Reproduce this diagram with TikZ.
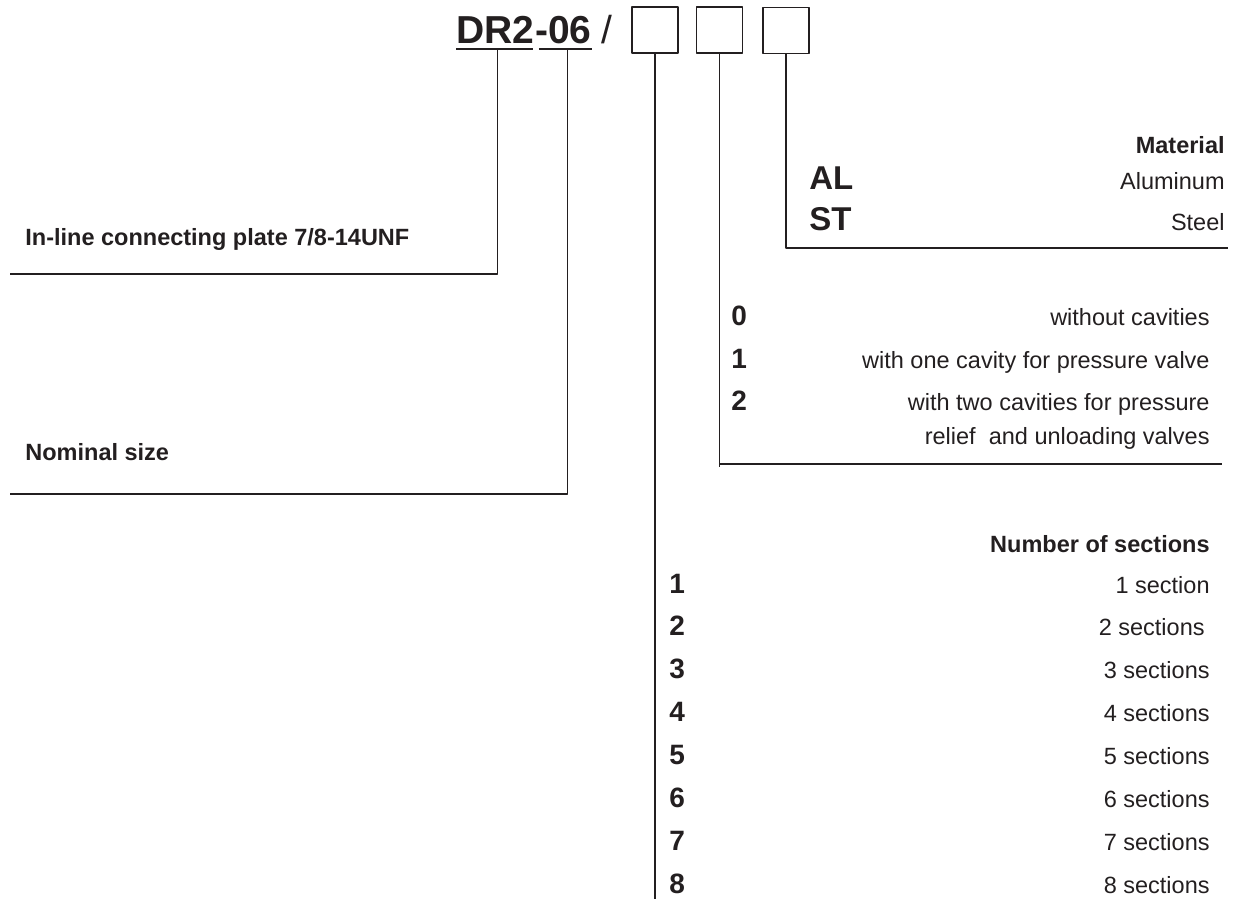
\documentclass[tikz,border=0pt]{standalone}
\usepackage{fontspec}
\setmainfont{Liberation Sans}
\usepackage{xcolor}
\usetikzlibrary{positioning}

\definecolor{ink}{HTML}{231F20}

\begin{document}
\begin{tikzpicture}[x=0.5pt, y=-0.5pt, line join=round, text=ink,
    lead/.style={draw=ink, line width=0.65pt},
    uline/.style={draw=ink, line width=0.9pt},
    codebox/.style={draw=ink, line width=0.8pt, minimum size=23pt, inner sep=0pt},
    lbl/.style={inner sep=0pt, font=\fontsize{11.75}{14}\selectfont\bfseries},
    txt/.style={inner sep=0pt, font=\fontsize{11.75}{14}\selectfont},
    key/.style={inner sep=0pt, font=\fontsize{14}{17}\selectfont\bfseries},
    bigkey/.style={inner sep=0pt, font=\fontsize{16.5}{20}\selectfont\bfseries},
    head/.style={inner sep=0pt, font=\fontsize{19.5}{23}\selectfont\bfseries}]

    % Fix the page to the size of the reference
    \useasboundingbox (0,0) rectangle (1239,901);

    % ==========================================
    % TYPE CODE AND BOXES
    % ==========================================

    \node[head, anchor=base west] (dr) at (456,43) {DR2};
    \node[head, anchor=base west] (nom) at (dr.base east) {-06};
    \node[inner sep=0pt, font=\fontsize{19.5}{23}\selectfont, anchor=base west] (slash) at (601,43) {/};

    % underlines below the fixed parts of the code
    \draw[uline] ([yshift=-3pt]dr.base west) -- ([xshift=-1pt,yshift=-3pt]dr.base east);
    \draw[uline] ([xshift=2pt,yshift=-3pt]nom.base west) -- ([yshift=-3pt]nom.base east);

    \node[codebox] (sec) at (655,30) {};
    \node[codebox] (cav) at (719.5,30) {};
    \node[codebox] (mat) at (786,30.5) {};

    % ==========================================
    % LEADER LINES
    % ==========================================

    \coordinate (dr-end) at (10,274);
    \coordinate (nom-end) at (10,494);
    \coordinate (sec-end) at (655,899);
    \coordinate (cav-end) at (1222,464);
    \coordinate (cav-tick) at (719.5,467);
    \coordinate (mat-end) at (1228,248);

    \draw[lead] ([xshift=1pt,yshift=-3pt]dr.base) |- (dr-end);
    \draw[lead] ([xshift=2pt,yshift=-3pt]nom.base) |- (nom-end);
    \draw[lead] (sec.south) -- (sec-end);
    \draw[lead] (cav.south) -- (cav-tick);
    \draw[lead] (cav.south |- cav-end) -- (cav-end);
    \draw[lead] (mat.south) |- (mat-end);

    % ==========================================
    % LEFT LABELS
    % ==========================================

    \node[lbl, anchor=base west] (plate) at (25,245) {In-line connecting plate 7/8-14UNF};
    \node[lbl, anchor=base west] (size) at (25,460) {Nominal size};

    % ==========================================
    % MATERIAL
    % ==========================================

    \node[lbl, anchor=base east] (mat-title) at (1225,153) {Material};
    \node[bigkey, anchor=base west] (al) at (809,189) {AL};
    \node[txt, anchor=base east] (al-text) at (1225,189) {Aluminum};
    \node[bigkey, anchor=base west] (st) at (809,230) {ST};
    \node[txt, anchor=base east] (st-text) at (1225,230) {Steel};

    % ==========================================
    % CAVITIES
    % ==========================================

    \node[key, anchor=base west] (c0) at (731,325) {0};
    \node[txt, anchor=base east] (c0-text) at (1210,325) {without cavities};
    \node[key, anchor=base west] (c1) at (731,368) {1};
    \node[txt, anchor=base east] (c1-text) at (1210,368) {with one cavity for pressure valve};
    \node[key, anchor=base west] (c2) at (731,410) {2};
    \node[txt, anchor=base east] (c2-text) at (1210,410) {with two cavities for pressure};
    \node[txt, anchor=base east] (c2-more) at (1210,444) {relief\ \ and unloading valves};

    % ==========================================
    % NUMBER OF SECTIONS
    % ==========================================

    \node[lbl, anchor=base east] (sec-title) at (1210,552) {Number of sections};
    \foreach \n/\word/\xr in {1/section/1210, 2/sections/1205, 3/sections/1210, 4/sections/1210,
                              5/sections/1210, 6/sections/1210, 7/sections/1210, 8/sections/1210} {
        \pgfmathsetmacro{\ybase}{593 + 42.9*(\n-1)}
        \node[key, anchor=base west] (s\n) at (669,\ybase) {\n};
        \node[txt, anchor=base east] (s\n-text) at (\xr,\ybase) {\n\ \word};
    }

\end{tikzpicture}
\end{document}
